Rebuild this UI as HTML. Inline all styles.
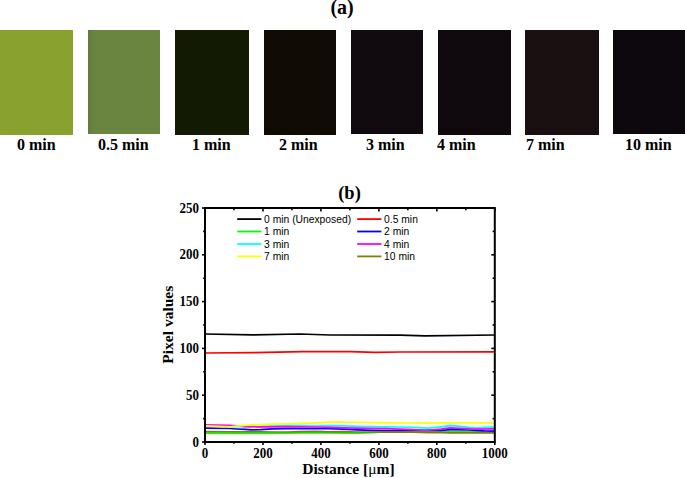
<!DOCTYPE html>
<html><head><meta charset="utf-8"><style>
html,body{margin:0;padding:0;background:#fff;}
body{width:685px;height:478px;position:relative;overflow:hidden;font-family:"Liberation Serif",serif;}
.p{position:absolute;top:30px;height:104px;}
.lb{position:absolute;top:0;font:bold 16.6px "Liberation Serif",serif;line-height:1;white-space:nowrap;color:#000;transform:scaleX(0.965);transform-origin:0 0;}
.ta{position:absolute;font:bold 20px "Liberation Serif",serif;line-height:1;white-space:nowrap;}
svg{position:absolute;left:0;top:0;}
.tk{font:bold 13.6px "Liberation Serif",serif;fill:#000;}
.lg{font:10.3px "Liberation Sans",sans-serif;fill:#000;}
.al{font:bold 15.5px "Liberation Serif",serif;fill:#000;}
.mu{font-weight:normal;}
.pl{font:bold 18.5px "Liberation Serif",serif;fill:#000;}
</style></head><body>
<div class="ta" style="left:330.4px;top:-3px">(a)</div>
<div class="p" style="left:0.0px;width:73.2px;height:104.6px;background:#89a12e"></div>
<div class="p" style="left:88.0px;width:72.0px;height:103.6px;background:linear-gradient(to right,#5f7a3d 0,#66813e 3px,#6a853f 8px,#6a853f 100%)"></div>
<div class="p" style="left:175.0px;width:74.0px;height:104.5px;background:#121a04"></div>
<div class="p" style="left:264.0px;width:72.2px;height:104.5px;background:#100c05"></div>
<div class="p" style="left:351.0px;width:71.8px;height:103.6px;background:#110a0f"></div>
<div class="p" style="left:438.0px;width:72.9px;height:104.5px;background:#100a0e"></div>
<div class="p" style="left:525.0px;width:73.9px;height:104.8px;background:#1b1011"></div>
<div class="p" style="left:613.0px;width:72.0px;height:103.6px;background:#0c080d"></div>
<div class="lb" style="left:17.1px;top:136.5px">0 min</div>
<div class="lb" style="left:97.6px;top:136.5px">0.5 min</div>
<div class="lb" style="left:192.3px;top:136.5px">1 min</div>
<div class="lb" style="left:279.4px;top:136.5px">2 min</div>
<div class="lb" style="left:366.2px;top:136.5px">3 min</div>
<div class="lb" style="left:437.2px;top:136.5px">4 min</div>
<div class="lb" style="left:525.8px;top:136.5px">7 min</div>
<div class="lb" style="left:625.0px;top:136.5px">10 min</div>
<svg width="685" height="478" viewBox="0 0 685 478">
<polyline fill="none" stroke="#000000" stroke-width="1.7" stroke-linejoin="round" points="205.0,334.0 253.0,334.9 300.0,334.0 330.0,335.0 400.0,335.2 425.0,335.8 494.8,335.0"/>
<polyline fill="none" stroke="#ff0000" stroke-width="1.7" stroke-linejoin="round" points="205.0,353.0 253.0,352.7 303.0,351.7 350.0,351.6 375.0,352.3 400.0,352.0 494.8,351.8"/>
<polyline fill="none" stroke="#00ff00" stroke-width="1.7" stroke-linejoin="round" points="205.0,433.1 230.0,433.4 260.0,433.4 286.0,433.1 316.0,432.7 344.0,433.1 357.0,433.1 372.0,432.6 385.0,432.0 400.0,432.0 418.0,431.6 441.0,431.6 450.0,431.4 456.0,431.4 469.0,431.6 476.0,431.8 484.0,432.2 494.8,432.5"/>
<polyline fill="none" stroke="#0000ff" stroke-width="1.7" stroke-linejoin="round" points="205.0,428.1 230.0,428.5 237.0,429.0 245.0,429.4 252.0,429.9 260.0,429.6 273.0,428.8 288.0,428.7 316.0,428.5 329.0,428.7 344.0,429.2 357.0,429.8 372.0,430.3 385.0,430.7 400.0,430.6 416.0,430.4 441.0,430.3 450.0,429.6 454.0,429.6 469.0,430.0 476.0,430.5 484.0,430.9 494.8,431.1"/>
<polyline fill="none" stroke="#00ffff" stroke-width="1.7" stroke-linejoin="round" points="205.0,426.0 230.0,426.6 258.0,426.6 273.0,426.0 288.0,425.3 300.0,425.5 314.0,426.0 329.0,425.7 344.0,425.9 357.0,426.3 372.0,426.5 385.0,426.8 400.0,427.0 413.0,427.4 428.0,428.1 441.0,426.8 450.0,425.7 456.0,425.9 469.0,427.4 476.0,428.1 484.0,427.4 494.8,427.2"/>
<polyline fill="none" stroke="#ff00ff" stroke-width="1.7" stroke-linejoin="round" points="205.0,424.9 230.0,425.3 240.0,426.0 245.0,426.6 258.0,426.8 288.0,426.6 300.0,426.8 316.0,427.0 329.0,427.4 344.0,427.9 357.0,428.1 372.0,428.3 385.0,428.7 400.0,429.2 413.0,429.6 426.0,430.5 441.0,429.2 450.0,427.9 456.0,428.1 469.0,428.9 476.0,429.2 494.8,428.9"/>
<polyline fill="none" stroke="#ffff00" stroke-width="1.7" stroke-linejoin="round" points="205.0,425.9 230.0,426.8 237.0,426.1 245.0,425.3 252.0,424.8 260.0,424.6 273.0,424.2 288.0,423.8 316.0,422.8 329.0,422.2 344.0,422.0 357.0,422.4 372.0,422.6 385.0,422.8 400.0,423.0 428.0,423.2 450.0,422.8 494.8,422.8"/>
<polyline fill="none" stroke="#808000" stroke-width="1.7" stroke-linejoin="round" points="205.0,431.7 230.0,431.8 260.0,431.8 273.0,432.0 288.0,432.0 300.0,431.6 316.0,431.3 329.0,431.8 344.0,431.6 357.0,432.0 372.0,432.0 385.0,432.2 400.0,432.0 413.0,432.2 428.0,432.7 441.0,432.7 450.0,432.9 494.8,432.9"/>
<rect x="205.0" y="208.0" width="289.8" height="234.0" fill="none" stroke="#000" stroke-width="2"/>
<line x1="202.0" y1="442.00" x2="205.0" y2="442.00" stroke="#000" stroke-width="1.6"/>
<line x1="494.8" y1="442.00" x2="491.3" y2="442.00" stroke="#000" stroke-width="1.6"/>
<text transform="translate(199,446.50) scale(0.955,1)" text-anchor="end" class="tk">0</text>
<line x1="203.1" y1="418.60" x2="205.0" y2="418.60" stroke="#000" stroke-width="1.6"/>
<line x1="494.8" y1="418.60" x2="492.6" y2="418.60" stroke="#000" stroke-width="1.6"/>
<line x1="202.0" y1="395.20" x2="205.0" y2="395.20" stroke="#000" stroke-width="1.6"/>
<line x1="494.8" y1="395.20" x2="491.3" y2="395.20" stroke="#000" stroke-width="1.6"/>
<text transform="translate(199,399.70) scale(0.955,1)" text-anchor="end" class="tk">50</text>
<line x1="203.1" y1="371.80" x2="205.0" y2="371.80" stroke="#000" stroke-width="1.6"/>
<line x1="494.8" y1="371.80" x2="492.6" y2="371.80" stroke="#000" stroke-width="1.6"/>
<line x1="202.0" y1="348.40" x2="205.0" y2="348.40" stroke="#000" stroke-width="1.6"/>
<line x1="494.8" y1="348.40" x2="491.3" y2="348.40" stroke="#000" stroke-width="1.6"/>
<text transform="translate(199,352.90) scale(0.955,1)" text-anchor="end" class="tk">100</text>
<line x1="203.1" y1="325.00" x2="205.0" y2="325.00" stroke="#000" stroke-width="1.6"/>
<line x1="494.8" y1="325.00" x2="492.6" y2="325.00" stroke="#000" stroke-width="1.6"/>
<line x1="202.0" y1="301.60" x2="205.0" y2="301.60" stroke="#000" stroke-width="1.6"/>
<line x1="494.8" y1="301.60" x2="491.3" y2="301.60" stroke="#000" stroke-width="1.6"/>
<text transform="translate(199,306.10) scale(0.955,1)" text-anchor="end" class="tk">150</text>
<line x1="203.1" y1="278.20" x2="205.0" y2="278.20" stroke="#000" stroke-width="1.6"/>
<line x1="494.8" y1="278.20" x2="492.6" y2="278.20" stroke="#000" stroke-width="1.6"/>
<line x1="202.0" y1="254.80" x2="205.0" y2="254.80" stroke="#000" stroke-width="1.6"/>
<line x1="494.8" y1="254.80" x2="491.3" y2="254.80" stroke="#000" stroke-width="1.6"/>
<text transform="translate(199,259.30) scale(0.955,1)" text-anchor="end" class="tk">200</text>
<line x1="203.1" y1="231.40" x2="205.0" y2="231.40" stroke="#000" stroke-width="1.6"/>
<line x1="494.8" y1="231.40" x2="492.6" y2="231.40" stroke="#000" stroke-width="1.6"/>
<line x1="202.0" y1="208.00" x2="205.0" y2="208.00" stroke="#000" stroke-width="1.6"/>
<line x1="494.8" y1="208.00" x2="491.3" y2="208.00" stroke="#000" stroke-width="1.6"/>
<text transform="translate(199,212.50) scale(0.955,1)" text-anchor="end" class="tk">250</text>
<line x1="205.00" y1="442.0" x2="205.00" y2="445.0" stroke="#000" stroke-width="1.6"/>
<line x1="205.00" y1="208.0" x2="205.00" y2="211.5" stroke="#000" stroke-width="1.6"/>
<text transform="translate(205.00,457.9) scale(0.955,1)" text-anchor="middle" class="tk">0</text>
<line x1="233.98" y1="442.0" x2="233.98" y2="443.8" stroke="#000" stroke-width="1.6"/>
<line x1="233.98" y1="208.0" x2="233.98" y2="210.2" stroke="#000" stroke-width="1.6"/>
<line x1="262.96" y1="442.0" x2="262.96" y2="445.0" stroke="#000" stroke-width="1.6"/>
<line x1="262.96" y1="208.0" x2="262.96" y2="211.5" stroke="#000" stroke-width="1.6"/>
<text transform="translate(262.96,457.9) scale(0.955,1)" text-anchor="middle" class="tk">200</text>
<line x1="291.94" y1="442.0" x2="291.94" y2="443.8" stroke="#000" stroke-width="1.6"/>
<line x1="291.94" y1="208.0" x2="291.94" y2="210.2" stroke="#000" stroke-width="1.6"/>
<line x1="320.92" y1="442.0" x2="320.92" y2="445.0" stroke="#000" stroke-width="1.6"/>
<line x1="320.92" y1="208.0" x2="320.92" y2="211.5" stroke="#000" stroke-width="1.6"/>
<text transform="translate(320.92,457.9) scale(0.955,1)" text-anchor="middle" class="tk">400</text>
<line x1="349.90" y1="442.0" x2="349.90" y2="443.8" stroke="#000" stroke-width="1.6"/>
<line x1="349.90" y1="208.0" x2="349.90" y2="210.2" stroke="#000" stroke-width="1.6"/>
<line x1="378.88" y1="442.0" x2="378.88" y2="445.0" stroke="#000" stroke-width="1.6"/>
<line x1="378.88" y1="208.0" x2="378.88" y2="211.5" stroke="#000" stroke-width="1.6"/>
<text transform="translate(378.88,457.9) scale(0.955,1)" text-anchor="middle" class="tk">600</text>
<line x1="407.86" y1="442.0" x2="407.86" y2="443.8" stroke="#000" stroke-width="1.6"/>
<line x1="407.86" y1="208.0" x2="407.86" y2="210.2" stroke="#000" stroke-width="1.6"/>
<line x1="436.84" y1="442.0" x2="436.84" y2="445.0" stroke="#000" stroke-width="1.6"/>
<line x1="436.84" y1="208.0" x2="436.84" y2="211.5" stroke="#000" stroke-width="1.6"/>
<text transform="translate(436.84,457.9) scale(0.955,1)" text-anchor="middle" class="tk">800</text>
<line x1="465.82" y1="442.0" x2="465.82" y2="443.8" stroke="#000" stroke-width="1.6"/>
<line x1="465.82" y1="208.0" x2="465.82" y2="210.2" stroke="#000" stroke-width="1.6"/>
<line x1="494.80" y1="442.0" x2="494.80" y2="445.0" stroke="#000" stroke-width="1.6"/>
<line x1="494.80" y1="208.0" x2="494.80" y2="211.5" stroke="#000" stroke-width="1.6"/>
<text transform="translate(494.80,457.9) scale(0.955,1)" text-anchor="middle" class="tk">1000</text>
<line x1="237.2" y1="219.1" x2="261.4" y2="219.1" stroke="#000000" stroke-width="1.8"/>
<text x="264.1" y="222.9" class="lg">0 min (Unexposed)</text>
<line x1="357.2" y1="219.1" x2="381.4" y2="219.1" stroke="#ff0000" stroke-width="1.8"/>
<text x="384.1" y="222.9" class="lg">0.5 min</text>
<line x1="237.2" y1="231.5" x2="261.4" y2="231.5" stroke="#00ff00" stroke-width="1.8"/>
<text x="264.1" y="235.3" class="lg">1 min</text>
<line x1="357.2" y1="231.5" x2="381.4" y2="231.5" stroke="#0000ff" stroke-width="1.8"/>
<text x="384.1" y="235.3" class="lg">2 min</text>
<line x1="237.2" y1="244.0" x2="261.4" y2="244.0" stroke="#00ffff" stroke-width="1.8"/>
<text x="264.1" y="247.8" class="lg">3 min</text>
<line x1="357.2" y1="244.0" x2="381.4" y2="244.0" stroke="#ff00ff" stroke-width="1.8"/>
<text x="384.1" y="247.8" class="lg">4 min</text>
<line x1="237.2" y1="256.4" x2="261.4" y2="256.4" stroke="#ffff00" stroke-width="1.8"/>
<text x="264.1" y="260.2" class="lg">7 min</text>
<line x1="357.2" y1="256.4" x2="381.4" y2="256.4" stroke="#808000" stroke-width="1.8"/>
<text x="384.1" y="260.2" class="lg">10 min</text>
<text x="348.5" y="473.9" text-anchor="middle" class="al">Distance [<tspan class="mu">&#956;</tspan>m]</text>
<text transform="translate(172.6,324.7) rotate(-90)" text-anchor="middle" class="al">Pixel values</text>
<text x="349.5" y="198.5" text-anchor="middle" class="pl">(b)</text>
</svg>
</body></html>
